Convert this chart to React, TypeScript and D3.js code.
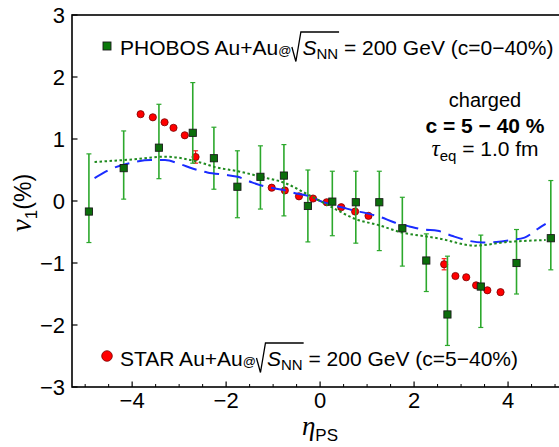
import React, { useEffect, useRef } from "react";
import * as d3 from "d3";

// PHOBOS Au+Au (c=0-40%)
const phobosEta = [-4.92, -4.18, -3.43, -2.71, -2.26, -1.76, -1.27, -0.77, -0.26, 0.26, 0.76, 1.26, 1.75, 2.26, 2.71, 3.42, 4.18, 4.91];
const phobosV1 = [-0.17, 0.53, 0.86, 1.10, 0.69, 0.23, 0.39, 0.41, -0.08, -0.01, -0.02, -0.02, -0.44, -0.96, -1.83, -1.38, -1.0, -0.6];
const phobosHi = [0.76, 1.13, 1.56, 1.91, 1.19, 0.81, 0.89, 0.91, 0.5, 0.48, 0.48, 0.48, 0.06, -0.53, -0.89, -0.55, -0.46, 0.33];
const phobosLo = [-0.67, 0.03, 0.36, 0.61, 0.19, -0.27, -0.13, -0.24, -0.66, -0.56, -0.68, -0.8, -1.05, -1.46, -2.33, -2.04, -1.5, -1.11];

// STAR Au+Au (c=5-40%)
const starEta = [-3.82, -3.56, -3.31, -3.12, -2.88, -2.65, -1.03, -0.75, -0.45, -0.15, 0.14, 0.45, 0.745, 1.03, 2.64, 2.88, 3.11, 3.32, 3.56, 3.84];
const starV1 = [1.4, 1.35, 1.27, 1.18, 1.06, 0.71, 0.215, 0.17, 0.075, 0.04, -0.02, -0.1, -0.17, -0.24, -1.02, -1.21, -1.23, -1.36, -1.44, -1.47];
const starErr = [0, 0, 0, 0, 0, 0.1, 0, 0, 0, 0, 0, 0, 0, 0, 0.09, 0, 0, 0, 0, 0];

// hydro curves
const dashEta = [-4.8, -4.5, -4.0, -3.6, -3.3, -3.0, -2.7, -2.4, -2.0, -1.75, -1.45, -1.15, -0.8, -0.5, -0.2, 0, 0.2, 0.5, 0.7, 1.0, 1.25, 1.6, 1.9, 2.2, 2.5, 2.8, 3.1, 3.45, 3.75, 4.05, 4.35, 4.65, 4.8];
const dashV1 = [0.37, 0.5, 0.62, 0.66, 0.66, 0.6, 0.52, 0.46, 0.42, 0.39, 0.3, 0.23, 0.18, 0.12, 0.07, 0, -0.05, -0.11, -0.15, -0.2, -0.25, -0.35, -0.41, -0.46, -0.48, -0.56, -0.63, -0.67, -0.66, -0.63, -0.59, -0.44, -0.37];
const dotEta = [-4.8, -4.0, -3.3, -2.5, -2.25, -1.75, -1.25, -0.75, -0.25, 0, 0.25, 0.75, 1.25, 1.75, 2.25, 2.5, 3.3, 4.0, 4.8];
const dotV1 = [0.63, 0.67, 0.715, 0.61, 0.55, 0.48, 0.39, 0.29, 0.1, 0, -0.1, -0.29, -0.39, -0.51, -0.57, -0.6, -0.72, -0.66, -0.63];

const xTicks = [-4, -2, 0, 2, 4];
const yTicks = [-3, -2, -1, 0, 1, 2, 3];

const sans = "'Liberation Sans', Arial, sans-serif";
const serif = "'Liberation Serif', 'Times New Roman', serif";

type Piece = { t?: string; size?: number; italic?: boolean; bold?: boolean; serif?: boolean; dy?: number; radical?: number; over?: boolean };

function richText(parent: any, x: number, y: number, pieces: Piece[], anchor: string = "start", rotate = 0) {
  const g = parent.append("g");
  let cx = 0;
  let overStart: number | null = null;
  let overEnd = 0;
  let radicalX = 0;
  pieces.forEach((p) => {
    if (p.radical) {
      radicalX = cx;
      cx += p.radical;
      return;
    }
    const t = g.append("text")
      .attr("x", cx)
      .attr("y", p.dy || 0)
      .attr("font-size", p.size)
      .attr("font-family", p.serif ? serif : sans)
      .attr("font-style", p.italic ? "italic" : "normal")
      .attr("font-weight", p.bold ? "bold" : "normal")
      .attr("fill", "#000")
      .style("white-space", "pre")
      .text(p.t);
    const w = (t.node() as SVGTextElement).getComputedTextLength();
    if (p.over) {
      if (overStart === null) overStart = cx;
      overEnd = cx + w;
    }
    cx += w;
  });
  if (overStart !== null) {
    g.append("path")
      .attr("d", `M${radicalX + 0.5},-8 L${radicalX + 4.5},6.5 L${radicalX + 9.5},-23 L${overEnd + 1},-23`)
      .attr("fill", "none")
      .attr("stroke", "#000")
      .attr("stroke-width", 1.3);
  }
  const shift = anchor === "middle" ? -cx / 2 : 0;
  g.attr("transform", `translate(${x},${y}) rotate(${rotate}) translate(${shift},0)`);
}

export default function App() {
  const ref = useRef<SVGSVGElement>(null);

  useEffect(() => {
    const svg = d3.select(ref.current);
    svg.selectAll("*").remove();

    const x = d3.scaleLinear().domain([-5.28, 5.28]).range([72, 568.2]);
    const y = d3.scaleLinear().domain([-3, 3]).range([387, 15]);

    // frame
    svg.append("rect")
      .attr("x", x(-5.28)).attr("y", y(3))
      .attr("width", x(5.28) - x(-5.28)).attr("height", y(-3) - y(3))
      .attr("fill", "none").attr("stroke", "#000").attr("stroke-width", 1.6);

    // x ticks
    const minor = d3.range(-5, 5.01, 0.5).filter((d) => !xTicks.includes(d));
    svg.append("g").selectAll("line").data(minor).enter().append("line")
      .attr("x1", (d) => x(d)).attr("x2", (d) => x(d))
      .attr("y1", y(-3)).attr("y2", y(-3) - 3)
      .attr("stroke", "#000").attr("stroke-width", 1);
    svg.append("g").selectAll("line").data(xTicks).enter().append("line")
      .attr("x1", (d) => x(d)).attr("x2", (d) => x(d))
      .attr("y1", y(-3)).attr("y2", y(-3) - 5.5)
      .attr("stroke", "#000").attr("stroke-width", 1.2);
    svg.append("g").selectAll("text").data(xTicks).enter().append("text")
      .attr("x", (d) => x(d)).attr("y", 408)
      .attr("text-anchor", "middle")
      .attr("font-family", sans).attr("font-size", 22)
      .text((d) => d3.format("d")(d));

    // y ticks
    svg.append("g").selectAll("line").data(yTicks).enter().append("line")
      .attr("x1", x(-5.28)).attr("x2", x(-5.28) + 5.5)
      .attr("y1", (d) => y(d)).attr("y2", (d) => y(d))
      .attr("stroke", "#000").attr("stroke-width", 1.2);
    svg.append("g").selectAll("text").data(yTicks).enter().append("text")
      .attr("x", 65).attr("y", (d) => y(d) + 7.5)
      .attr("text-anchor", "end")
      .attr("font-family", sans).attr("font-size", 22)
      .text((d) => d3.format("d")(d));

    // axis titles
    richText(svg, 320, 435, [
      { t: "η", size: 27, italic: true, serif: true },
      { t: "PS", size: 17, dy: 6 },
    ], "middle");
    richText(svg, 31, 203, [
      { t: "v", size: 29, italic: true, serif: true },
      { t: "1", size: 17, dy: 6 },
      { t: "(%)", size: 23 },
    ], "middle", -90);

    // STAR error bars and points
    const starData = starEta.map((e, i) => ({ e, v: starV1[i], err: starErr[i] }));
    const starBars = svg.append("g").selectAll("g").data(starData.filter((d) => d.err > 0)).enter().append("g")
      .attr("stroke", "#ff1a1a").attr("stroke-width", 1.2);
    starBars.append("line")
      .attr("x1", (d) => x(d.e)).attr("x2", (d) => x(d.e))
      .attr("y1", (d) => y(d.v + d.err)).attr("y2", (d) => y(d.v - d.err));
    starBars.append("line")
      .attr("x1", (d) => x(d.e) - 2.5).attr("x2", (d) => x(d.e) + 2.5)
      .attr("y1", (d) => y(d.v + d.err)).attr("y2", (d) => y(d.v + d.err));
    starBars.append("line")
      .attr("x1", (d) => x(d.e) - 2.5).attr("x2", (d) => x(d.e) + 2.5)
      .attr("y1", (d) => y(d.v - d.err)).attr("y2", (d) => y(d.v - d.err));

    svg.append("g").selectAll("circle").data(starData).enter().append("circle")
      .attr("cx", (d) => x(d.e)).attr("cy", (d) => y(d.v)).attr("r", 3.6)
      .attr("fill", "#ff0000").attr("stroke", "#7a0000").attr("stroke-width", 0.8);

    // PHOBOS error bars
    const phData = phobosEta.map((e, i) => ({ e, v: phobosV1[i], hi: phobosHi[i], lo: phobosLo[i] }));
    const bars = svg.append("g").selectAll("g").data(phData).enter().append("g")
      .attr("stroke", "#2ca82c").attr("stroke-width", 1.6);
    bars.append("line")
      .attr("x1", (d) => x(d.e)).attr("x2", (d) => x(d.e))
      .attr("y1", (d) => y(d.hi)).attr("y2", (d) => y(d.lo));
    bars.append("line")
      .attr("x1", (d) => x(d.e) - 2.5).attr("x2", (d) => x(d.e) + 2.5)
      .attr("y1", (d) => y(d.hi)).attr("y2", (d) => y(d.hi)).attr("stroke-width", 1.2);
    bars.append("line")
      .attr("x1", (d) => x(d.e) - 2.5).attr("x2", (d) => x(d.e) + 2.5)
      .attr("y1", (d) => y(d.lo)).attr("y2", (d) => y(d.lo)).attr("stroke-width", 1.2);

    // hydro curves
    const line = d3.line<[number, number]>().x((d) => x(d[0])).y((d) => y(d[1])).curve(d3.curveMonotoneX);
    svg.append("path")
      .attr("d", line(dashEta.map((e, i) => [e, dashV1[i]] as [number, number])))
      .attr("fill", "none").attr("stroke", "#1a2cff").attr("stroke-width", 2)
      .attr("stroke-dasharray", "15,8");
    svg.append("path")
      .attr("d", line(dotEta.map((e, i) => [e, dotV1[i]] as [number, number])))
      .attr("fill", "none").attr("stroke", "#1f8a1f").attr("stroke-width", 2)
      .attr("stroke-dasharray", "2.5,2.5");

    // PHOBOS squares
    svg.append("g").selectAll("rect").data(phData).enter().append("rect")
      .attr("x", (d) => x(d.e) - 3.6).attr("y", (d) => y(d.v) - 3.6)
      .attr("width", 7.2).attr("height", 7.2)
      .attr("fill", "#0b6e0b").attr("stroke", "#1a1a1a").attr("stroke-width", 0.9);

    // legends
    svg.append("rect").attr("x", 103).attr("y", 42).attr("width", 8).attr("height", 8)
      .attr("fill", "#0b7a0b").attr("stroke", "#1a1a1a").attr("stroke-width", 0.9);
    richText(svg, 120, 55, [
      { t: "PHOBOS Au+Au", size: 21 },
      { t: "@", size: 13 },
      { radical: 11 },
      { t: "S", size: 21, italic: true, over: true },
      { t: "NN", size: 15, dy: 4, over: true },
      { t: " = 200 GeV (c=0−40%)", size: 21 },
    ]);

    svg.append("circle").attr("cx", 107).attr("cy", 356).attr("r", 5.3)
      .attr("fill", "#ff0000").attr("stroke", "#7a0000").attr("stroke-width", 0.8);
    richText(svg, 120, 366, [
      { t: "STAR Au+Au", size: 21 },
      { t: "@", size: 13 },
      { radical: 11 },
      { t: "S", size: 21, italic: true, over: true },
      { t: "NN", size: 15, dy: 4, over: true },
      { t: " = 200 GeV (c=5−40%)", size: 21 },
    ]);

    // annotation
    richText(svg, 485, 107, [{ t: "charged", size: 20 }], "middle");
    richText(svg, 485, 133, [{ t: "c = 5 − 40 %", size: 21, bold: true }], "middle");
    richText(svg, 485, 156, [
      { t: "τ", size: 23, italic: true, serif: true },
      { t: "eq", size: 15, dy: 5 },
      { t: " = 1.0 fm", size: 21 },
    ], "middle");
  }, []);

  return (
    <div style={{ position: "absolute", left: 0, top: 0 }}>
      <svg ref={ref} width={559} height={447} style={{ display: "block", background: "#fff" }} />
    </div>
  );
}
